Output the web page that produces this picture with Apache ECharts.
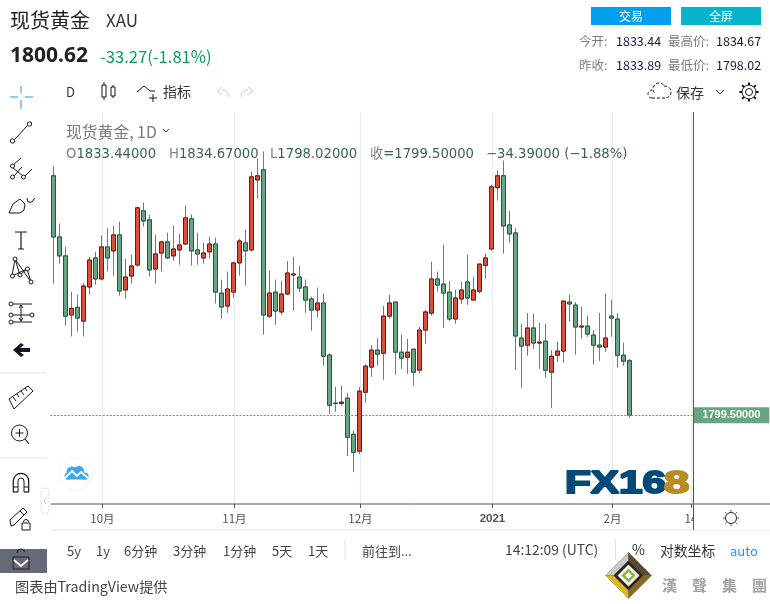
<!DOCTYPE html>
<html><head><meta charset="utf-8">
<style>html,body{margin:0;padding:0;background:#fff}#c{width:770px;height:604px}</style>
<script src="https://cdn.jsdelivr.net/npm/echarts@6/dist/echarts.min.js"></script>
</head><body><div id="c"></div>
<script>
const dates = ['9/21','9/22','9/23','9/24','9/25','9/28','9/29','9/30',
'10/1','10/2','10/5','10/6','10/7','10/8','10/9','10/12','10/13','10/14','10/15','10/16','10/19','10/20','10/21','10/22','10/23','10/26','10/27','10/28','10/29','10/30',
'11/2','11/3','11/4','11/5','11/6','11/9','11/10','11/11','11/12','11/13','11/16','11/17','11/18','11/19','11/20','11/23','11/24','11/25','11/26','11/27','11/30',
'12/1','12/2','12/3','12/4','12/7','12/8','12/9','12/10','12/11','12/14','12/15','12/16','12/17','12/18','12/21','12/22','12/23','12/24','12/28','12/29','12/30','12/31',
'1/4','1/5','1/6','1/7','1/8','1/11','1/12','1/13','1/14','1/15','1/18','1/19','1/20','1/21','1/22','1/25','1/26','1/27','1/28','1/29',
'2/1','2/2','2/3','2/4','2/5','2/8','2/9','2/10','2/11','2/12','2/15','2/16','2/17','2/18'];
const opens = [1948.9,1910.7,1898.9,1862.0,1866.8,1858.2,1879.5,1897.6,1884.5,1904.5,
1902.0,1912.0,1877.6,1886.3,1893.2,1927.0,1921.4,1890.7,1900.7,1907.6,
1898.9,1902.6,1906.3,1922.0,1902.6,1897.6,1901.4,1906.3,1875.7,1867.6,
1876.3,1894.5,1907.0,1902.6,1946.3,1952.6,1861.3,1876.3,1863.9,1875.1,
1887.0,1885.7,1879.5,1872.0,1865.1,1869.5,1837.0,1807.0,1806.8,1810.1,
1787.6,1777.0,1813.8,1829.5,1840.1,1838.2,1861.3,1870.1,1838.8,1835.7,
1840.7,1827.6,1852.6,1863.2,1884.5,1881.3,1876.3,1859.5,1872.0,1882.6,
1871.3,1876.8,1893.0,1903.2,1941.4,1948.9,1918.2,1913.2,1847.6,1843.2,
1853.9,1844.5,1845.7,1826.3,1836.9,1839.5,1870.1,1868.2,1854.5,1855.1,
1849.5,1843.2,1842.0,1861.3,1859.5,1836.9,1833.44];
const closes = [1910.7,1898.9,1861.3,1866.1,1860.1,1880.1,1896.3,1884.5,1904.5,1897.6,
1912.0,1877.0,1885.7,1892.6,1928.9,1920.7,1890.1,1900.1,1907.6,1897.6,
1903.2,1905.7,1922.6,1902.0,1900.1,1900.7,1906.3,1876.3,1867.0,1878.2,
1894.5,1908.2,1902.0,1948.2,1948.9,1862.0,1875.7,1864.5,1875.1,1888.2,
1887.6,1878.8,1871.3,1865.1,1869.5,1836.3,1805.7,1806.8,1807.6,1785.7,
1776.3,1814.5,1830.1,1840.1,1837.6,1861.3,1869.5,1838.8,1835.1,1838.8,
1826.3,1852.6,1863.9,1884.5,1880.7,1875.7,1859.5,1872.6,1877.6,1872.6,
1877.6,1893.8,1897.6,1942.0,1948.9,1917.6,1912.6,1848.9,1842.6,1853.9,
1844.5,1845.1,1827.6,1836.3,1839.5,1870.7,1868.9,1854.5,1855.1,1850.1,
1843.2,1842.0,1847.6,1860.1,1836.9,1833.2,1799.50];
const lows = [1881.6,1894.1,1855.3,1848.6,1851.6,1848.6,1874.7,1880.9,1883.6,1889.1,
1886.6,1874.1,1872.2,1881.6,1892.2,1917.2,1886.0,1881.6,1889.1,1897.2,
1895.9,1893.4,1905.9,1892.8,1893.4,1894.1,1897.2,1869.1,1859.7,1863.4,
1872.8,1886.6,1880.3,1901.6,1934.7,1849.7,1860.1,1855.9,1862.2,1874.3,
1864.7,1876.3,1863.4,1852.2,1860.3,1830.3,1800.3,1801.6,1805.3,1774.0,
1764.1,1775.3,1807.2,1823.4,1830.3,1821.6,1859.7,1824.7,1828.4,1825.3,
1817.8,1825.5,1844.1,1861.6,1876.6,1854.0,1858.2,1856.6,1868.8,1868.4,
1870.9,1875.3,1884.7,1902.2,1933.4,1900.3,1907.2,1827.8,1816.6,1836.6,
1840.9,1828.4,1822.8,1804.1,1832.8,1832.2,1857.8,1837.2,1847.2,1848.4,
1831.0,1833.4,1839.1,1848.4,1829.1,1830.3,1798.02];
const highs = [1954.9,1919.1,1904.5,1876.6,1874.7,1882.0,1898.2,1901.4,1911.6,1916.4,
1917.8,1920.3,1897.2,1899.7,1929.7,1932.2,1924.7,1912.2,1908.4,1913.4,
1917.8,1912.8,1930.3,1924.7,1913.4,1907.2,1910.9,1910.3,1884.1,1889.1,
1895.3,1909.7,1915.3,1951.4,1959.7,1964.1,1889.7,1884.1,1883.4,1895.7,
1898.4,1892.8,1884.1,1873.4,1879.1,1875.3,1838.2,1817.2,1817.8,1813.4,
1789.7,1817.0,1831.3,1843.2,1847.6,1867.6,1874.7,1870.1,1849.7,1847.0,
1840.7,1854.5,1865.3,1895.3,1889.1,1905.9,1883.4,1877.8,1882.8,1899.7,
1885.9,1893.8,1900.3,1943.4,1952.2,1958.4,1927.2,1916.4,1856.6,1863.2,
1862.8,1857.0,1856.6,1840.1,1845.3,1870.9,1874.7,1870.1,1867.2,1861.6,
1852.6,1863.4,1875.3,1871.6,1863.2,1844.7,1834.67];
const tickPositions = [8.69,30.69,51.69,73.69,93.69,106.75];
const tickLabels = ['10月','11月','12月','2021','2月','14'];
const lastClose = 1799.5;
const lastCloseLabel = '1799.50000';

const CJK = '"Noto Sans CJK SC","Noto Sans",sans-serif';
const INK = '#131722', AXIS = '#50535e', GREY = '#7d7d7d';
const g = [];
const Z = 50;
function add(e){ e.silent = true; if(e.z===undefined) e.z = Z; g.push(e); return e; }
function T(text,x,y,size,color,o){ o=o||{}; return add({type:'text',x:x,y:y,z:o.z||Z,scaleX:o.sx||1,style:{text:text,fill:color,font:(o.w||'normal')+' '+size+'px '+(o.f||CJK),textAlign:o.a||'left',textVerticalAlign:'middle'}}); }
function L(x1,y1,x2,y2,c,w,o){ o=o||{}; return add({type:'line',z:o.z||Z,shape:{x1,y1,x2,y2},style:{stroke:c||INK,lineWidth:w||1,lineDash:o.dash}}); }
function PL(points,c,w,o){ o=o||{}; return add({type:'polyline',z:o.z||Z,shape:{points},style:{stroke:c||INK,lineWidth:w||1,fill:null,lineDash:o.dash}}); }
function PG(points,fill,stroke,w,o){ o=o||{}; return add({type:'polygon',z:o.z||Z,shape:{points},style:{fill:fill||'none',stroke:stroke,lineWidth:w||0}}); }
function C(cx,cy,r,stroke,fill,w,o){ o=o||{}; return add({type:'circle',z:o.z||Z,shape:{cx,cy,r},style:{fill:fill===undefined?'#fff':fill,stroke:stroke||INK,lineWidth:w===undefined?1:w,lineDash:o.dash}}); }
function R(x,y,width,height,fill,o){ o=o||{}; return add({type:'rect',z:o.z||Z,shape:{x,y,width,height,r:o.r||0},style:{fill:fill,stroke:o.stroke,lineWidth:o.lw||0}}); }
function A(cx,cy,r,s,e,c,w,o){ o=o||{}; return add({type:'arc',z:o.z||Z,shape:{cx,cy,r,startAngle:s,endAngle:e,clockwise:true},style:{stroke:c||INK,lineWidth:w||1,fill:null,lineDash:o.dash}}); }

/* header */
T('现货黄金',10,20,20,'#222');
T('XAU',106,21,17,'#333');
T('1800.62',10,56,21,'#222',{w:'bold',f:'"Noto Sans",sans-serif'});
T('-33.27(-1.81%)',100,57,16.6,'#06a35e');
R(591,7,80,18,'#039fef'); T('交易',631,16,12,'#fff',{a:'center'});
R(681,7,80,18,'#07b4cc'); T('全屏',721,16,12,'#fff',{a:'center'});
T('今开:',579,41,12.5,GREY); T('1833.44',616,41,12.5,'#22153f');
T('最高价:',668,41,12.5,GREY); T('1834.67',716,41,12.5,'#22153f');
T('昨收:',579,65,12.5,GREY); T('1833.89',616,65,12.5,'#22153f');
T('最低价:',668,65,12.5,GREY); T('1798.02',716,65,12.5,'#22153f');

/* toolbar */
T('D',66,92,13,'#333');
L(104,82,104,100,INK,1); R(102,85,4,12,'#fff',{stroke:INK,lw:1});
L(113,85,113,98,INK,1); R(111,87,4,9,'#fff',{stroke:INK,lw:1});
PL([[137,92],[144,86],[150,91],[155,91]],INK,1);
L(153,94,153,102,INK,1); L(149,98,157,98,INK,1);
T('指标',163,92,14,'#333');
PL([[222,87],[217,91],[222,95]],'#c8cbd4',1); A(222,97,7,-Math.PI/2,0,'#c8cbd4',1);
PL([[248,87],[253,91],[248,95]],'#c8cbd4',1); A(248,97,7,Math.PI,-Math.PI/2,'#c8cbd4',1);
A(659,89,6,Math.PI*0.8,Math.PI*1.9,INK,1,{dash:[3,2]});
A(665,92,6,-Math.PI*0.55,Math.PI*0.5,INK,1,{dash:[3,2]});
A(652,94,4,Math.PI*0.5,Math.PI*1.5,INK,1,{dash:[3,2]});
L(652,98,665,98,INK,1,{dash:[3,2]});
T('保存',676,93,14,'#333');
PL([[716,90],[720,94],[724,90]],'#333',1);
C(749,92,3.5,INK,'none',1);
for(let i=0;i<8;i++){const a=i*Math.PI/4;L(749+7*Math.cos(a),92+7*Math.sin(a),749+9.6*Math.cos(a),92+9.6*Math.sin(a),INK,2);}
C(749,92,7,INK,'none',1);

/* left tools */
const BL='#2196f3';
L(10,97,18,97,BL,1);L(25,97,33,97,BL,1);L(21,86,21,93,BL,1);L(21,100,21,109,BL,1);
L(15,139,27,126,INK,1);C(12.5,141,2.2);C(29.5,124,2.2);
L(13,165,21,158,INK,1);L(14,176,22,167,INK,1);L(25,176,32,169,INK,1);L(13,168,23,176,INK,1);
C(12.5,166,2);C(12.5,177,2);C(23.5,177,2);
PL([[9,213],[13,204],[20,199],[25,204],[24,210],[20,213],[9,213]],INK,1);
PL([[27,198],[28,202],[32,202],[35,198]],INK,1);
L(21,232,21,249,INK,1.2);L(15,232,27,232,INK,1);L(18,249,24,249,INK,1);
L(12,276,15,259,INK,1);L(15,259,20,275,INK,1);L(20,275,27,269,INK,1);L(27,269,31,282,INK,1);L(15,259,31,282,INK,1);L(27,269,12,276,INK,1);
C(12.5,276,2);C(15,259,2);C(27.5,269,2);C(31,282,2);C(20,275,2);
L(13,304,32,304,INK,1);L(13,315,30,315,INK,1);L(13,322,32,322,INK,1);
C(11,304,2);C(11,315,2);C(32,315,2);C(11,322,2);
L(21,305,21,321,INK,1);PL([[19,308],[21,305],[23,308]],INK,1);PL([[19,318],[21,321],[23,318]],INK,1);
PG([[13,350],[21,343],[24,345],[20,348],[30,348],[30,352],[20,352],[24,355],[21,357]],INK);
L(0,373,47,373,'#e0e3eb',1);
PG([[9,399],[28,386],[33,391],[14,409]],'#fff',INK,1);
[[13,397,16,401],[17,394,19,397],[21,391,24,395],[25,388,27,391]].forEach(p=>L(p[0],p[1],p[2],p[3],INK,1));
C(19.5,433,8);L(25,439,29,444,INK,1.2);L(15.5,433,23.5,433,INK,1);L(19.5,429,19.5,437,INK,1);
L(0,458,47,458,'#e0e3eb',1);
A(21,481,7.7,Math.PI,0,INK,1.2);
L(13.3,481,13.3,492,INK,1.2);L(28.7,481,28.7,492,INK,1.2);L(18,481,18,492,INK,1);L(24,481,24,492,INK,1);
A(21,481,3,Math.PI,0,INK,1);
L(13,492,18,492,INK,1.2);L(24,492,29,492,INK,1.2);L(13,487,18,487,INK,1);L(24,487,29,487,INK,1);
PG([[10,520],[23,508],[27,512],[14,525],[11,526]],'#fff',INK,1);
L(20,511,24,515,INK,1);
R(22,523,8,7,'#fff',{stroke:INK,lw:1}); A(26,522,2.5,Math.PI,0,INK,1);
R(41,488,8,26,'#fff',{r:4,stroke:'#e3e5ea',lw:1});
PL([[46,498],[44,501],[46,504]],'#c3c6cf',1);
R(0,549,47,24,'#666a78');
A(21,553,4,Math.PI,-0.3,INK,1);
R(13,557,16,12,'none',{stroke:'#222',lw:1,z:Z+1});
PL([[14,560],[21,566],[28,560]],'#fff',2,{z:Z+2});
T('图表由TradingView提供',15,587,14.2,'#444');

/* legend over the chart */
T('现货黄金, 1D',66,132,15.8,'#7a7a7a');
PL([[163,129],[166,132],[169,129]],'#444',1);
const LF='"DejaVu Sans",'+CJK;
const GR={fill:'#808080',fontSize:13.2,fontFamily:LF};
const GN={fill:'#38654e',fontSize:13.2,fontFamily:LF};
function ohlc(txt,x){ add({type:'text',x:x,y:155,z:Z,style:{text:txt,textVerticalAlign:'middle',rich:{k:GR,v:GN},fontSize:13}}); }
ohlc('{k|O}{v|1833.44000}',66);
ohlc('{k|H}{v|1834.67000}',169);
ohlc('{k|L}{v|1798.02000}',270);
ohlc('{k|收}{v|=1799.50000}',370);
ohlc('{v|\u221234.39000 (\u22121.88%)}',486);

/* axes frame */
R(694,505,76,25,'#fff',{z:55});
L(51,504,770,504,AXIS,1,{z:56});
L(693.5,112,693.5,530,AXIS,1,{z:56});
L(51,530,770,530,'#e0e3eb',1,{z:54});
C(731,518,5.5,'#222','none',1,{z:56});
for(let i=0;i<8;i++){const a=i*Math.PI/4;L(731+6.5*Math.cos(a),518+6.5*Math.sin(a),731+8*Math.cos(a),518+8*Math.sin(a),'#222',1,{z:56});}

/* bottom toolbar */
[['5y',67],['1y',96],['6分钟',124],['3分钟',173],['1分钟',223],['5天',272],['1天',308],['前往到...',362]].forEach(p=>T(p[0],p[1],551,13,'#444'));
L(345,539,345,560,'#e0e3eb',1);
T('14:12:09 (UTC)',505,550,13.9,'#444');
L(615.5,539,615.5,560,'#e0e3eb',1);
T('%',632,550,14,'#333');
T('对数坐标',660,551,13.8,'#333');
T('auto',730,551,13,'#2196f3');

/* cloud badge */
C(75.5,474,16.5,'#eef0f3','#fff',1);
const CB='#3aa8f4';
C(72,472,5.5,CB,CB,0);C(79,471,5,CB,CB,0);C(85,476,3.5,CB,CB,0);C(68,476,3.5,CB,CB,0);R(66,475,21,4.5,CB);
PL([[65,478],[72,471],[77,476],[81,472],[88,478]],'#fff',1.8);

/* FX168 mark */
const BLUE='#044a78', GOLD='#b98c28';
add({type:'text',x:565,y:484,scaleX:1.32,style:{text:'FX16',fill:BLUE,stroke:BLUE,lineWidth:2,font:'bold 32px "Liberation Sans",sans-serif',textVerticalAlign:'middle'}});
add({type:'text',x:664,y:484,scaleX:1.42,style:{text:'8',fill:GOLD,stroke:GOLD,lineWidth:2,font:'bold 32px "Liberation Sans",sans-serif',textVerticalAlign:'middle'}});

/* 漢聲集團 mark */
const X0=628.5,Y0=575.5,S=23;
PG([[X0-S,Y0],[X0,Y0-S],[X0,Y0-S+8],[X0-S+8,Y0]],'#c9c9c9','#777',.5,{z:57});
PG([[X0,Y0-S],[X0+S,Y0],[X0+S-8,Y0],[X0,Y0-S+8]],'#5a4a35','#5a4a35',.5,{z:57});
PG([[X0-S,Y0],[X0-S+8,Y0],[X0,Y0+S-8],[X0,Y0+S]],'#d8b826','#a58c18',.5,{z:57});
PG([[X0+S,Y0],[X0,Y0+S],[X0,Y0+S-8],[X0+S-8,Y0]],'#8a6a22','#8a6a22',.5,{z:57});
PG([[X0-15,Y0],[X0,Y0-15],[X0+15,Y0],[X0,Y0+15]],'#2e2418',null,0,{z:57});
PG([[X0-11,Y0],[X0,Y0-11],[X0+11,Y0],[X0,Y0+11]],'#f4f4f0',null,0,{z:57});
PG([[X0-7,Y0],[X0,Y0-7],[X0+7,Y0],[X0,Y0+7]],'#8db53a',null,0,{z:57});
PG([[X0-3.5,Y0],[X0,Y0-3.5],[X0+3.5,Y0],[X0,Y0+3.5]],'#fff',null,0,{z:57});
T('漢\u3000聲\u3000集\u3000團',662,585,15,'#a3a3a3',{w:'bold',z:57});

const opt = {
  animation:false,
  backgroundColor:'#fff',
  textStyle:{fontFamily:CJK},
  grid:{left:50.33,top:112.4,width:642,height:391.6,containLabel:false},
  xAxis:[
    {type:'category',data:dates,boundaryGap:true,show:false},
    {type:'value',min:0,max:dates.length,position:'bottom',
      axisLine:{show:false},
      axisTick:{show:true,length:4,customValues:tickPositions,lineStyle:{color:AXIS}},
      axisLabel:{show:true,customValues:tickPositions,margin:9,fontSize:11.5,color:'#50535e',fontFamily:CJK,hideOverlap:false,
        formatter:function(v){const l=tickLabels[tickPositions.indexOf(v)];return l==='2021'?'{b|2021}':(l||'');},
        rich:{b:{fontWeight:'bold',fontSize:11.5,color:'#50535e',fontFamily:'"Liberation Sans",sans-serif'}}},
      splitLine:{show:true,lineStyle:{color:'#e4ecf3',width:1}}}
  ],
  yAxis:{type:'value',min:1744.06,max:1988.44,show:false,scale:true},
  graphic:{elements:g},
  series:[
    {name:'wick',type:'candlestick',xAxisIndex:0,barWidth:4,z:3,
     data:opens.map((o,i)=>[o,closes[i],lows[i],highs[i]]),
     itemStyle:{color:'#777',color0:'#777',borderColor:'#777',borderColor0:'#777',borderWidth:1}},
    {name:'现货黄金',type:'candlestick',xAxisIndex:0,barWidth:4,z:4,
     data:opens.map((o,i)=>[o,closes[i],Math.min(o,closes[i]),Math.max(o,closes[i])]),
     itemStyle:{color:'#d94f3c',color0:'#68a582',borderColor:'#6d1a12',borderColor0:'#1b5c40',borderWidth:1},
     markLine:{silent:true,symbol:'none',animation:false,
       lineStyle:{color:'#5b9a78',type:[2,1.5],width:1},
       label:{show:true,position:'end',distance:1,formatter:lastCloseLabel,color:'#fff',backgroundColor:'#68a582',
         fontSize:11,fontFamily:'"Liberation Sans",sans-serif',fontWeight:'bold',width:67,height:16,lineHeight:16,align:'left',padding:[0,0,0,9]},
       data:[{yAxis:lastClose}]}}
  ]
};
const chart = echarts.init(document.getElementById('c'),null,{renderer:'canvas',width:770,height:604});
chart.setOption(opt);
</script></body></html>
